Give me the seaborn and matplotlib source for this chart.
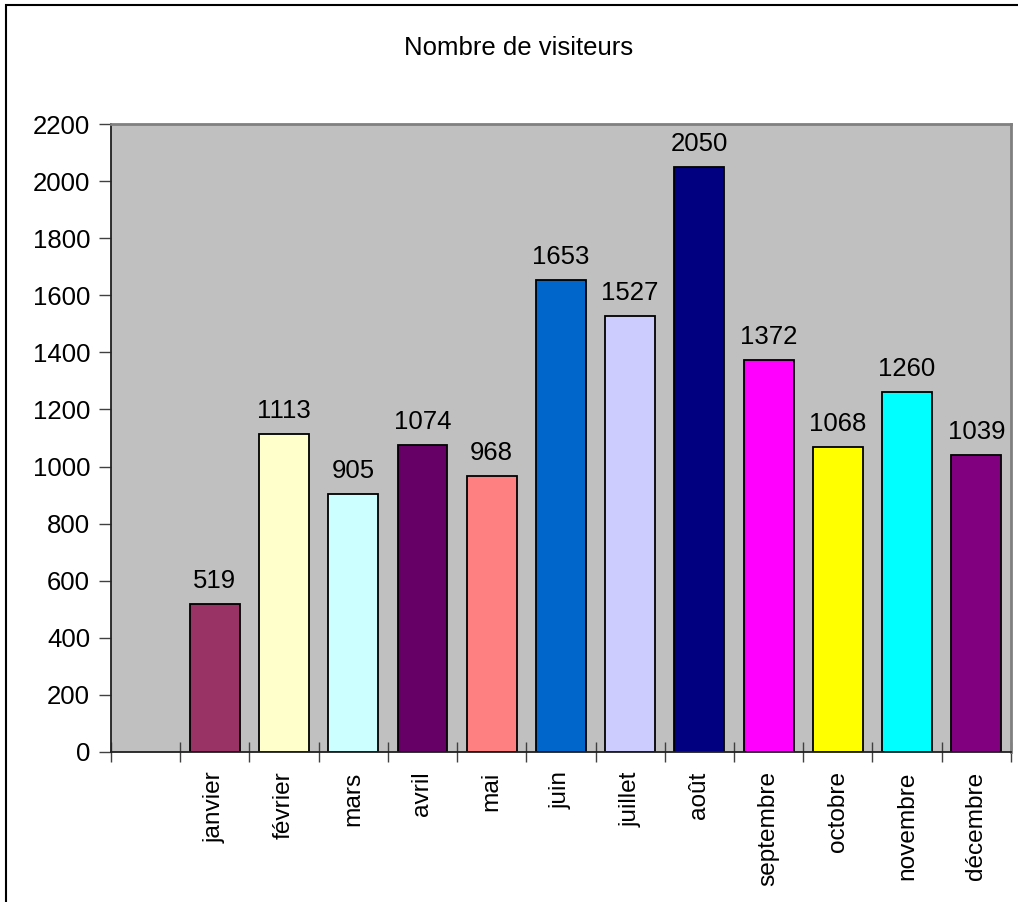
import numpy as np
import pandas as pd
import matplotlib
matplotlib.use('Agg')
import matplotlib.pyplot as plt
import seaborn as sns
from matplotlib.patches import Rectangle

# ── Data ──────────────────────────────────────────────────────────────────────
mois = ['janvier', 'février', 'mars', 'avril', 'mai', 'juin', 'juillet',
        'août', 'septembre', 'octobre', 'novembre', 'décembre']
visiteurs = [519, 1113, 905, 1074, 968, 1653, 1527, 2050, 1372, 1068, 1260, 1039]
couleurs = ['#993366', '#FFFFCC', '#CCFFFF', '#660066', '#FF8080', '#0066CC',
            '#CCCCFF', '#000080', '#FF00FF', '#FFFF00', '#00FFFF', '#800080']
yticks = list(range(0, 2201, 200))

df = pd.DataFrame({'mois': mois, 'visiteurs': visiteurs})
ordre = [' '] + mois  # first slot left empty, as in the original sheet

sns.set_style('white')
plt.rcParams['font.family'] = ['Liberation Sans', 'DejaVu Sans']
plt.rcParams['text.color'] = 'black'
plt.rcParams['xtick.labelcolor'] = 'black'
plt.rcParams['ytick.labelcolor'] = 'black'

fig = plt.figure(figsize=(10.18, 9.02), dpi=100)
ax = fig.add_axes([0.109, 0.1663, 0.884, 0.6962])
ax.set_facecolor('#C0C0C0')

sns.barplot(data=df, x='mois', y='visiteurs', hue='mois', order=ordre,
            palette=dict(zip(mois, couleurs)), legend=False, width=0.72,
            edgecolor='black', linewidth=1.3, saturation=1, ax=ax)

for cont in ax.containers:
    ax.bar_label(cont, fmt='%d', padding=8, fontsize=18.5, color='black')

ax.set_ylim(0, 2200)
ax.set_xlim(-0.5, len(ordre) - 0.5)
ax.set_yticks(yticks)
ax.tick_params(axis='y', labelsize=18.5, length=9, width=1, direction='out',
               left=True, color='#404040', pad=6, labelcolor='black')

# category boundaries as major ticks, labels on minor ticks at centres
ax.set_xticks(np.arange(len(ordre) + 1) - 0.5)
ax.set_xticklabels([])
ax.set_xticks(np.arange(1, len(ordre)), minor=True)
ax.set_xticklabels(mois, minor=True, rotation=90, fontsize=17.6)
ax.tick_params(axis='x', which='major', length=14, width=1, direction='inout',
               bottom=True, color='#404040')
ax.tick_params(axis='x', which='minor', length=0, pad=14, labelcolor='black')
ax.set_xlabel('')
ax.set_ylabel('')

for side in ['left', 'bottom']:
    ax.spines[side].set_color('#202020')
    ax.spines[side].set_linewidth(1.3)
for side in ['top', 'right']:
    ax.spines[side].set_visible(True)
    ax.spines[side].set_color('#808080')
    ax.spines[side].set_linewidth(2)

fig.text(0.509, 1 - 48 / 902, 'Nombre de visiteurs', ha='center', va='center',
         fontsize=18.5, color='black')

# chart-area border
fig.patches.append(Rectangle((6 / 1018, -0.1), 1.2, 1 - 5 / 902 + 0.1,
                             transform=fig.transFigure, fill=False,
                             edgecolor='black', linewidth=1.5))

plt.savefig('out.png', dpi=100)
plt.close()
